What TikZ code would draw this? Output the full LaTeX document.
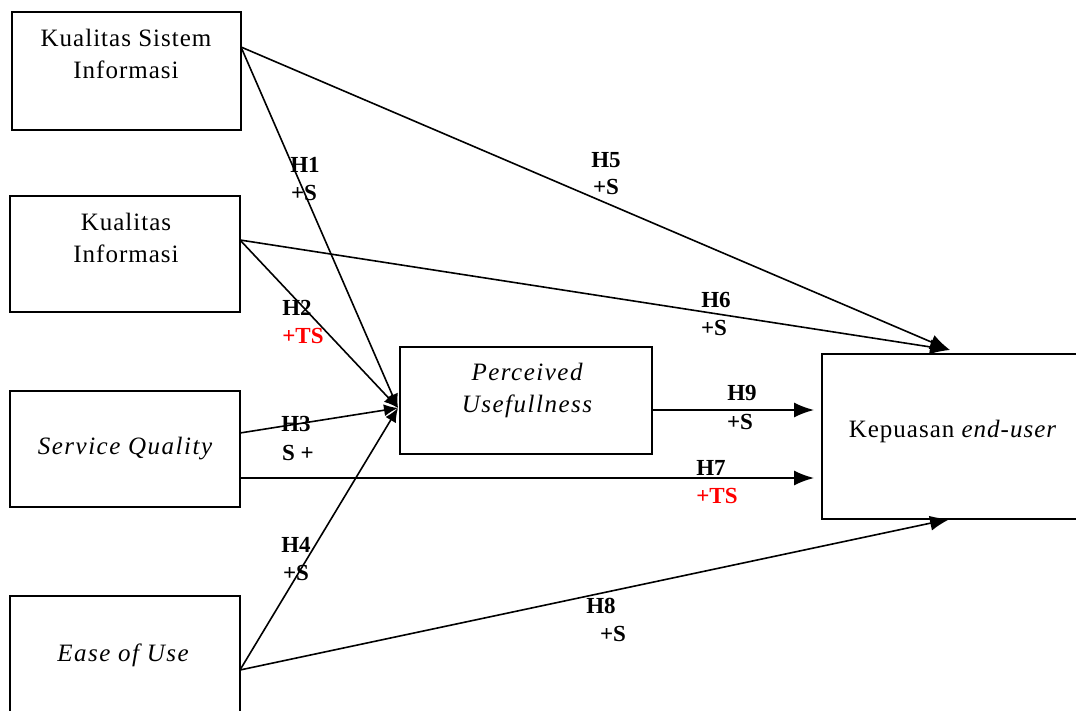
\documentclass[tikz,border=0pt]{standalone}
\usepackage{fontspec}
\setmainfont{Liberation Serif}
\usetikzlibrary{arrows.meta}
\begin{document}
\begin{tikzpicture}[x=1pt,y=-1pt,
  box/.style={draw, line width=1.7pt, inner sep=0pt},
  txt/.style={font=\fontsize{25}{32}\selectfont\addfontfeature{LetterSpace=4}, align=center, inner sep=0pt},
  itxt/.style={font=\fontsize{25}{32}\selectfont\itshape\addfontfeature{LetterSpace=6}, align=center, inner sep=0pt},
  lab/.style={font=\fontsize{23}{28}\selectfont\bfseries, inner sep=0pt},
  red lab/.style={lab, text=red},
  conn/.style={line width=1.6pt, -{Latex[length=20pt,width=15pt]}},
  hubconn/.style={line width=1.6pt, -{Latex[length=14pt,width=12pt]}}]
\useasboundingbox (0,0) rectangle (1076,711);
% boxes
\node[box, minimum width=229pt, minimum height=118pt] (ksi) at (126.5,71) {};
\node[box, minimum width=230pt, minimum height=116pt] (ki) at (125,254) {};
\node[box, minimum width=230pt, minimum height=116pt] (sq) at (125,449) {};
\node[box, minimum width=230pt, minimum height=120pt] (eou) at (125,656) {};
\node[box, minimum width=252pt, minimum height=107pt] (pu) at (526,400.5) {};
\node[box, minimum width=268pt, minimum height=165pt] (ke) at (956,436.5) {};
% texts
\node[txt] (ksi-t) at (126,54) {Kualitas Sistem\\Informasi};
\node[txt] (ki-t) at (126,238) {Kualitas\\Informasi};
\node[itxt] (sq-t) at (125,449) {Service Quality};
\node[itxt] (eou-t) at (123,655) {Ease of Use};
\node[itxt] (pu-t) at (527,390) {Perceived\\Usefullness};
\node[txt] (ke-t) at (953,431) {Kepuasan \textit{end-user}};
% connector points
\coordinate (ksi-o) at (241,47);
\coordinate (ki-o) at (240,240);
\coordinate (sq-o1) at (240,433);
\coordinate (sq-o2) at (240,478);
\coordinate (eou-o) at (240,670);
\coordinate (hub) at (398,408);
\coordinate (pu-o) at (652,410);
\coordinate (ke-top) at (950,350);
\coordinate (ke-bot) at (950,519);
\coordinate (ke-w1) at (814,410);
\coordinate (ke-w2) at (814,478);
% connectors
\draw[hubconn] (ksi-o) -- (hub);
\draw[hubconn] (ki-o) -- (hub);
\draw[hubconn] (sq-o1) -- (hub);
\draw[hubconn] (eou-o) -- (hub);
\draw[conn] (ksi-o) -- (ke-top);
\draw[conn] (ki-o) -- (ke-top);
\draw[conn] (pu-o) -- (ke-w1);
\draw[conn] (sq-o2) -- (ke-w2);
\draw[conn] (eou-o) -- (ke-bot);
% labels
\node[lab] (h1) at (305,165) {H1};
\node[lab] (h1s) at (304,193) {+S};
\node[lab] (h5) at (606,160) {H5};
\node[lab] (h5s) at (606,187) {+S};
\node[lab] (h2) at (297,308) {H2};
\node[red lab] (h2s) at (303,336) {+TS};
\node[lab] (h6) at (716,300) {H6};
\node[lab] (h6s) at (714,328) {+S};
\node[lab] (h3) at (296,424) {H3};
\node[lab] (h3s) at (298,453) {S +};
\node[lab] (h9) at (742,393) {H9};
\node[lab] (h9s) at (740,422) {+S};
\node[lab] (h7) at (711,468) {H7};
\node[red lab] (h7s) at (717,496) {+TS};
\node[lab] (h4) at (296,545) {H4};
\node[lab] (h4s) at (296,573) {+S};
\node[lab] (h8) at (601,606) {H8};
\node[lab] (h8s) at (613,634) {+S};
\end{tikzpicture}
\end{document}
